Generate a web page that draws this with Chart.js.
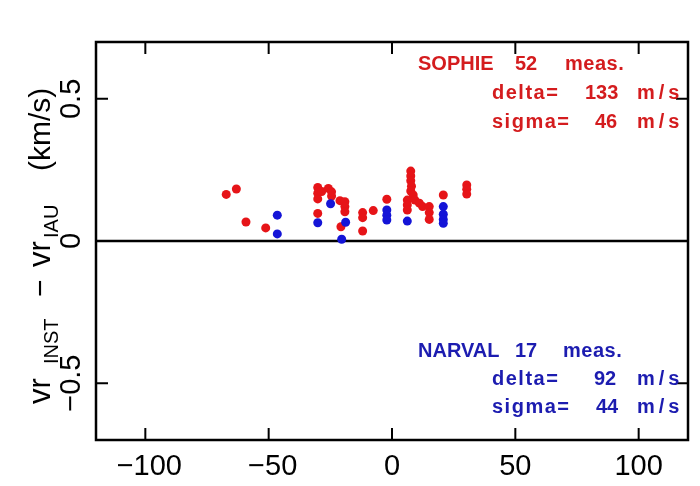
<!DOCTYPE html>
<html><head><meta charset="utf-8">
<script src="https://cdn.jsdelivr.net/npm/chart.js@4"></script>
<style>html,body{margin:0;padding:0;background:#fff}#wrap{width:700px;height:486px}</style>
</head><body><div id="wrap"><canvas id="c" width="700" height="486"></canvas></div>
<script>
const xTicks = [-100, -50, 0, 50, 100];
const yTicks = [-0.5, 0, 0.5];
const xTickLabels = ["\u2212100", "\u221250", "0", "50", "100"];
const yTickLabels = ["\u22120.5", "0", "0.5"];

const sophieX = [-67.2, -63.1, -59.2, -51.2, -30.1, -30.1, -30.1, -28.5, -25.8, -24.5, -24.5, -30.1,
  -21.1, -19.1, -19.1, -19.1, -20.7, -11.9, -11.9, -11.9, -7.6, -2.1,
  7.6, 7.6, 7.6, 7.9, 7.6, 8.6, 6.2, 6.2, 6.2, 9.3, 11.1, 12.4, 15.1, 15.1, 15.1, 20.8, 30.3, 30.3, 30.3];
const sophieY = [0.164, 0.183, 0.067, 0.046, 0.188, 0.168, 0.148, 0.174, 0.185, 0.173, 0.158, 0.097,
  0.142, 0.138, 0.121, 0.103, 0.050, 0.100, 0.082, 0.035, 0.107, 0.147,
  0.246, 0.229, 0.212, 0.193, 0.176, 0.162, 0.144, 0.127, 0.109, 0.144, 0.133, 0.121, 0.121, 0.100, 0.076, 0.162, 0.197, 0.182, 0.165];

const narvalX = [-46.5, -46.5, -30.1, -24.9, -18.8, -20.4, -2.1, -2.1, -2.1, 6.2, 20.8, 20.8, 20.8, 20.8];
const narvalY = [0.091, 0.025, 0.064, 0.131, 0.066, 0.006, 0.109, 0.091, 0.074, 0.070, 0.121, 0.094, 0.076, 0.062];

const xRange = [-120, 120];
const yRange = [-0.7, 0.7];
const zeroLineX = [-120, 120];

const sophieLines = [["SOPHIE", "52", "meas."], ["delta=", "133", "m/s"], ["sigma=", "46", "m/s"]];
const narvalLines = [["NARVAL", "17", "meas."], ["delta=", "92", "m/s"], ["sigma=", "44", "m/s"]];

const RED = "rgb(230,20,24)";
const BLUE = "rgb(20,20,215)";
const RED_T = "rgb(212,28,30)";
const BLUE_T = "rgb(28,28,176)";

function pts(xs, ys) { return xs.map((x, i) => ({x: x, y: ys[i]})); }

const FONT = '"Liberation Sans", Arial, Helvetica, sans-serif';

const framePlugin = {
  id: 'frame',
  afterDatasetsDraw(chart) {
    const ctx = chart.ctx, a = chart.chartArea;
    const xs = chart.scales.x, ys = chart.scales.y;
    ctx.save();
    ctx.strokeStyle = '#000';
    ctx.lineWidth = 2.5;
    ctx.strokeRect(a.left, a.top, a.right - a.left, a.bottom - a.top);
    ctx.lineWidth = 2;
    const tl = 12;
    ctx.beginPath();
    xTicks.forEach(v => {
      const p = xs.getPixelForValue(v);
      ctx.moveTo(p, a.bottom); ctx.lineTo(p, a.bottom - tl);
      ctx.moveTo(p, a.top); ctx.lineTo(p, a.top + tl);
    });
    yTicks.forEach(v => {
      const p = ys.getPixelForValue(v);
      ctx.moveTo(a.left, p); ctx.lineTo(a.left + tl, p);
      ctx.moveTo(a.right, p); ctx.lineTo(a.right - tl, p);
    });
    ctx.stroke();

    // x tick labels
    ctx.fillStyle = '#000';
    ctx.font = '29px ' + FONT;
    ctx.textAlign = 'center';
    ctx.textBaseline = 'alphabetic';
    xTicks.forEach((v, i) => {
      ctx.fillText(xTickLabels[i], xs.getPixelForValue(v) + (v < 0 ? 4 : 0), 475);
    });
    // y tick labels rotated
    yTicks.forEach((v, i) => {
      ctx.save();
      ctx.translate(80, ys.getPixelForValue(v));
      ctx.rotate(-Math.PI / 2);
      ctx.textAlign = 'center';
      ctx.fillText(yTickLabels[i], 0, 0);
      ctx.restore();
    });

    // y title with subscripts: [text, size, baselineX, startY]
    const parts = [
      ["vr", 31, 50, 404], ["INST", 20, 58, 364], ["\u2212", 30, 50, 297],
      ["vr", 31, 50, 267], ["IAU", 20, 58, 238], ["(km/s)", 30, 50, 171]
    ];
    parts.forEach(p => {
      ctx.save();
      ctx.font = p[1] + 'px ' + FONT;
      ctx.translate(p[2], p[3]);
      ctx.rotate(-Math.PI / 2);
      ctx.textAlign = 'left';
      ctx.fillText(p[0], 0, 0);
      ctx.restore();
    });

    // annotations
    ctx.font = 'bold 20px ' + FONT;
    ctx.textAlign = 'left';
    function block(lines, color, pos, base) {
      ctx.fillStyle = color;
      lines.forEach((ln, i) => {
        ln.forEach((t, j) => {
          ctx.letterSpacing = (t === 'm/s') ? '4px' : (/^(delta=|sigma=)$/.test(t) ? '1.5px' : (t === 'meas.' ? '0.5px' : '0px'));
          ctx.fillText(t, pos[i][j], base[i]);
        });
      });
      ctx.letterSpacing = '0px';
    }
    block(sophieLines, RED_T, [[418, 515, 565], [492, 585, 637], [492, 595, 637]], [70, 99, 128]);
    block(narvalLines, BLUE_T, [[418, 515, 563], [492, 594, 637], [492, 596, 637]], [357, 385, 413]);
    ctx.restore();
  }
};

new Chart(document.getElementById('c'), {
  type: 'scatter',
  data: {
    datasets: [
      {label: 'NARVAL', data: pts(narvalX, narvalY), backgroundColor: BLUE, borderWidth: 0, pointRadius: 4.5},
      {label: 'SOPHIE', data: pts(sophieX, sophieY), backgroundColor: RED, borderWidth: 0, pointRadius: 4.5},
      {label: 'zero', type: 'line', data: pts(zeroLineX, [0, 0]), borderColor: '#000', borderWidth: 2.5, pointRadius: 0}
    ]
  },
  options: {
    responsive: false,
    devicePixelRatio: 1,
    animation: false,
    layout: {padding: {left: 96, right: 12, top: 42, bottom: 46}},
    plugins: {legend: {display: false}, tooltip: {enabled: false}},
    scales: {
      x: {type: 'linear', min: xRange[0], max: xRange[1], display: false},
      y: {type: 'linear', min: yRange[0], max: yRange[1], display: false}
    }
  },
  plugins: [framePlugin]
});
</script>
</body></html>
